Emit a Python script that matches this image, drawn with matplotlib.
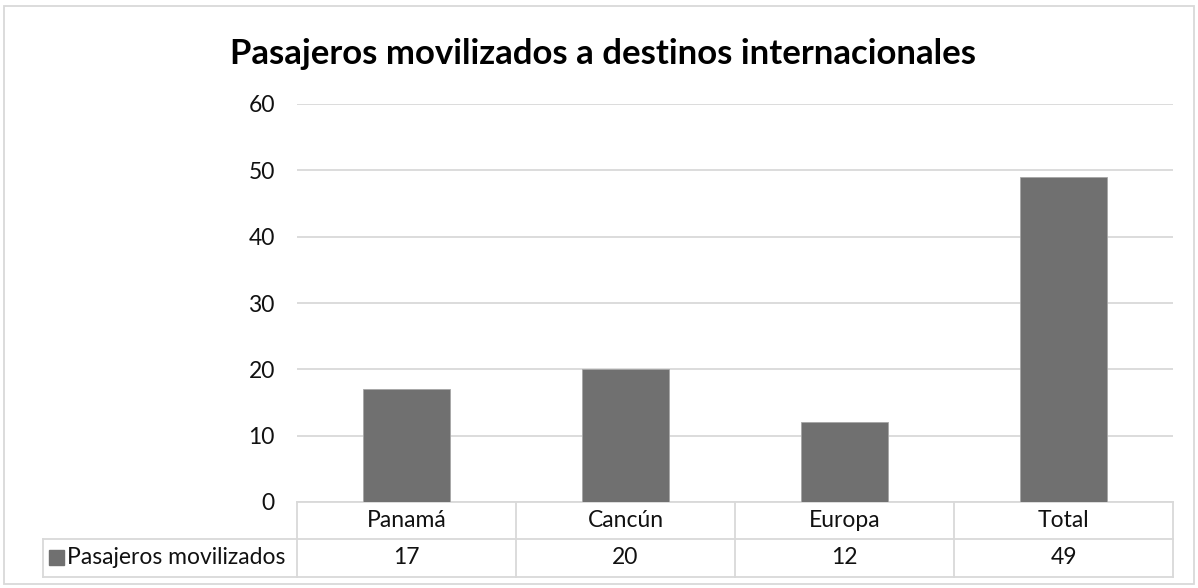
import matplotlib.pyplot as plt
import matplotlib.transforms as mtransforms
from matplotlib.patches import Rectangle

categories = ["Panamá", "Cancún", "Europa", "Total"]
values = [17, 20, 12, 49]
series_name = "Pasajeros movilizados"
title = "Pasajeros movilizados a destinos internacionales"
yticks = [0, 10, 20, 30, 40, 50, 60]

W, H = 1198, 588
bar_color = "#707070"
grid_color = "#D9D9D9"
text_color = "#111111"
font = "Lato"
fs = 16.5

fig = plt.figure(figsize=(W / 100, H / 100), dpi=100)
# plot area in pixels: left 297, right 1173, top(60) 104, bottom(0) 502
ax = fig.add_axes([297 / W, (H - 502) / H, 876 / W, 398 / H])

x = list(range(len(categories)))
ax.bar(x, values, width=0.4, color=bar_color, edgecolor="#A6A6A6", linewidth=0.6, zorder=3)
ax.set_xlim(-0.5, len(categories) - 0.5)
ax.set_ylim(0, 60)
ax.set_yticks(yticks)
ax.set_yticklabels([str(t) for t in yticks], fontsize=fs, color=text_color, family=font)
ax.tick_params(axis="y", length=0, pad=16)
ax.set_xticks([])
ax.grid(axis="y", color=grid_color, linewidth=1.3, zorder=0)
for s in ax.spines.values():
    s.set_visible(False)

# data table below the plot
trans = mtransforms.blended_transform_factory(ax.transData, ax.transAxes)
row1 = (502 - 539) / 398
row2 = (502 - 577) / 398
leg_left = (43 - 297) / 219 - 0.5
lw = 1.3
edges = [i - 0.5 for i in range(len(categories) + 1)]
ax.plot([edges[0], edges[-1]], [0, 0], color=grid_color, lw=lw, transform=trans, clip_on=False)
ax.plot([leg_left, edges[-1]], [row1, row1], color=grid_color, lw=lw, transform=trans, clip_on=False)
ax.plot([leg_left, edges[-1]], [row2, row2], color=grid_color, lw=lw, transform=trans, clip_on=False)
ax.plot([leg_left, leg_left], [row1, row2], color=grid_color, lw=lw, transform=trans, clip_on=False)
for e in edges:
    ax.plot([e, e], [0, row2], color=grid_color, lw=lw, transform=trans, clip_on=False)

for i, (c, v) in enumerate(zip(categories, values)):
    ax.text(i, row1 / 2, c, ha="center", va="center", fontsize=fs, color=text_color,
            family=font, transform=trans)
    ax.text(i, (row1 + row2) / 2, str(v), ha="center", va="center", fontsize=fs,
            color=text_color, family=font, transform=trans)

# legend key in the table
fig.patches.append(Rectangle((49 / W, (H - 565) / H), 15 / W, 15 / H, color=bar_color,
                             transform=fig.transFigure))
fig.text(67 / W, (H - 558) / H, series_name, ha="left", va="center", fontsize=fs,
         color=text_color, family=font)

fig.text(603 / W, (H - 54) / H, title, ha="center", va="center", fontsize=25,
         fontweight="bold", color="black", family=font)

# chart border
fig.patches.append(Rectangle((4 / W, 4 / H), (W - 8) / W, (H - 10) / H, fill=False,
                             edgecolor=grid_color, linewidth=1.3, transform=fig.transFigure))

fig.savefig("out.png", dpi=100)
